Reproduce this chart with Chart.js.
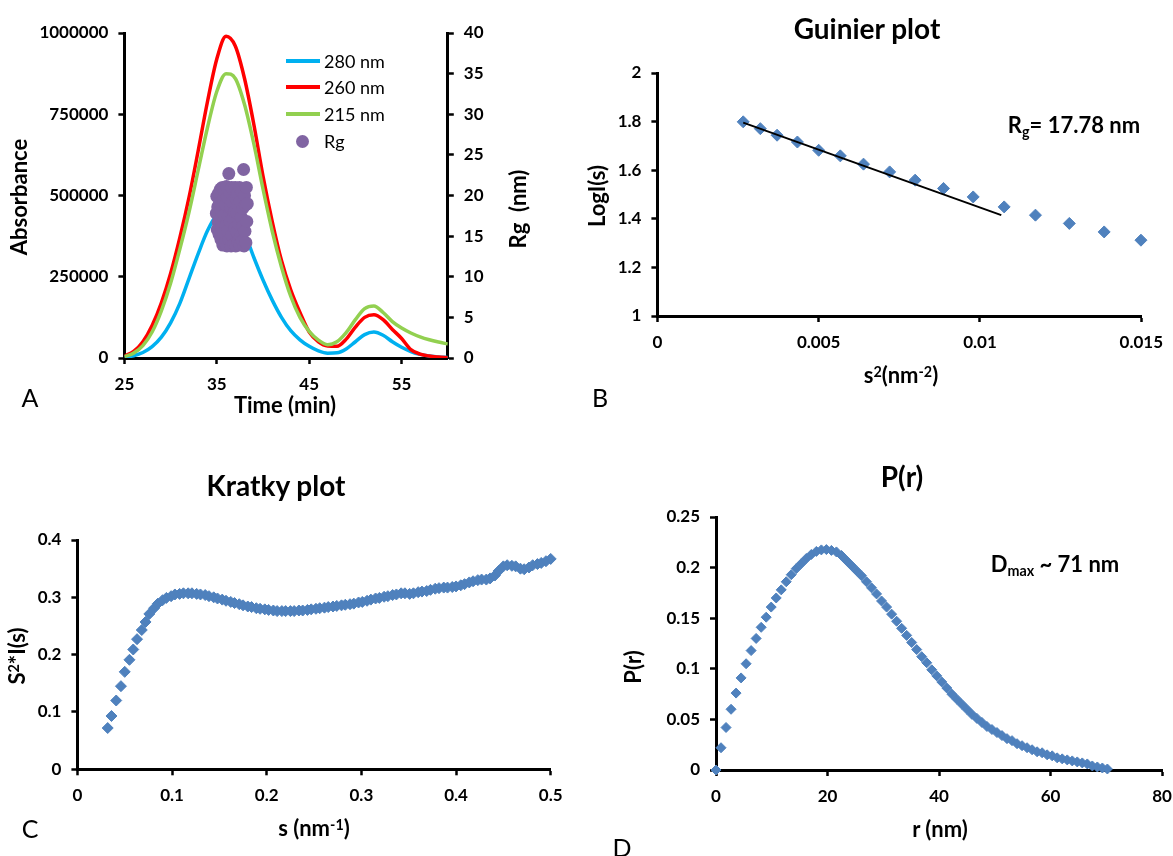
<!DOCTYPE html>
<html>
<head>
<meta charset="utf-8">
<script src="https://cdn.jsdelivr.net/npm/chart.js@4.4.1/dist/chart.umd.min.js"></script>
<style>
  html, body { margin: 0; padding: 0; background: #fff; }
  body { position: relative; width: 1173px; height: 856px; overflow: hidden; font-family: Lato, 'Liberation Sans', sans-serif; color: #000; }
  canvas { position: absolute; }
  .t { position: absolute; white-space: nowrap; line-height: 1; transform: translate(-50%, -50%); font-weight: bold; font-size: 22px; }
  .title { font-size: 28px; }
  .rot { transform: translate(-50%, -50%) rotate(-90deg); }
  .panel-id { font-weight: normal; font-size: 25px; }
  .legend { position: absolute; font-size: 18px; line-height: 1; white-space: nowrap; }
  .legend .ln { position: absolute; width: 34px; height: 3.5px; }
  .legend .dot { position: absolute; width: 13px; height: 13px; border-radius: 50%; background: #8064A2; }
  .legend .tx { position: absolute; transform: translateY(-50%); }
  sup { font-size: 0.65em; position: relative; top: -0.45em; vertical-align: baseline; line-height: 0; }
  sub { font-size: 0.65em; position: relative; top: 0.3em; vertical-align: baseline; line-height: 0; }
</style>
</head>
<body>
<canvas id="chartA" width="560" height="440" style="left:0;top:0"></canvas>
<canvas id="chartB" width="613" height="440" style="left:560px;top:0"></canvas>
<canvas id="chartC" width="580" height="416" style="left:0;top:440px"></canvas>
<canvas id="chartD" width="600" height="416" style="left:590px;top:440px"></canvas>

<!-- A: elution profile -->
<div class="t" style="left:285px;top:405px">Time (min)</div>
<div class="t rot" style="left:19px;top:197px">Absorbance</div>
<div class="t rot" style="left:518px;top:209px">Rg&nbsp; (nm)</div>
<div class="t panel-id" style="left:30px;top:397px">A</div>
<div class="legend">
  <div class="ln" style="left:286px;top:59px;background:#00B0F0"></div><div class="tx" style="left:324px;top:61px">280 nm</div>
  <div class="ln" style="left:286px;top:85px;background:#FF0000"></div><div class="tx" style="left:324px;top:87px">260 nm</div>
  <div class="ln" style="left:286px;top:112px;background:#92D050"></div><div class="tx" style="left:324px;top:114px">215 nm</div>
  <div class="dot" style="left:295.5px;top:134.5px"></div><div class="tx" style="left:324px;top:141px">Rg</div>
</div>

<!-- B: Guinier -->
<div class="t title" style="left:867px;top:28px">Guinier plot</div>
<div class="t" style="left:901px;top:375px">s<sup>2</sup>(nm<sup>-2</sup>)</div>
<div class="t rot" style="left:597px;top:196px">LogI(s)</div>
<div class="t" style="left:1074px;top:125px">R<sub>g</sub>= 17.78 nm</div>
<div class="t panel-id" style="left:600px;top:397px">B</div>

<!-- C: Kratky -->
<div class="t title" style="left:276px;top:485px">Kratky plot</div>
<div class="t" style="left:314px;top:828px">s (nm<sup>-1</sup>)</div>
<div class="t rot" style="left:17px;top:656px">S<sup>2</sup>*I(s)</div>
<div class="t panel-id" style="left:30px;top:828px">C</div>

<!-- D: pair distance distribution -->
<div class="t title" style="left:902px;top:476px">P(r)</div>
<div class="t" style="left:940px;top:829px">r (nm)</div>
<div class="t rot" style="left:633px;top:667px">P(r)</div>
<div class="t" style="left:1055px;top:564px">D<sub>max</sub> ~ 71 nm</div>
<div class="t panel-id" style="left:622px;top:847px">D</div>

<script>
// --- A: SEC elution, absorbance at three wavelengths + Rg per frame ---
const timeMin = [25, 26, 27, 28, 29, 30, 31, 32, 33, 34, 35, 36, 37, 38, 39, 40, 41, 42,
  43, 44, 45, 46, 47, 48, 49, 50, 51, 52, 53, 54, 55, 56, 57, 58, 59, 60];
const abs280 = [2000, 7000, 17000, 35000, 64000, 108000, 168000, 245000, 322000, 392000, 440000, 455000,
  438000, 385000, 310000, 240000, 178000, 125000, 84000, 56000, 36000, 22000, 15000, 16000,
  28000, 50000, 72000, 80000, 70000, 50000, 33000, 20000, 11000, 6000, 3000, 1500];
const abs260 = [6000, 20000, 50000, 100000, 170000, 260000, 370000, 495000, 640000, 790000, 920000, 990000,
  960000, 860000, 720000, 560000, 420000, 300000, 210000, 140000, 80000, 50000, 37000, 36000,
  58000, 95000, 125000, 133000, 118000, 88000, 60000, 26000, 12000, 6000, 3000, 1000];
const abs215 = [4000, 15000, 38000, 80000, 145000, 230000, 335000, 450000, 580000, 710000, 820000, 875000,
  860000, 780000, 660000, 520000, 390000, 280000, 190000, 125000, 82000, 55000, 41000, 50000,
  78000, 118000, 152000, 160000, 140000, 112000, 92000, 77000, 65000, 56000, 49000, 43000];
const rgTime = [34.95, 35.00, 35.05, 35.10, 35.15, 35.20, 35.25, 35.30, 35.35, 35.40, 35.45, 35.50,
  35.55, 35.60, 35.65, 35.70, 35.75, 35.80, 35.85, 35.90, 35.95, 36.00, 36.05, 36.10, 36.15, 36.20,
  36.25, 36.30, 36.35, 36.40, 36.45, 36.50, 36.55, 36.60, 36.65, 36.70, 36.75, 36.80, 36.85, 36.90,
  36.95, 37.00, 37.05, 37.10, 37.15, 37.20, 37.25, 37.30, 37.35, 37.40, 37.45, 37.50, 37.55, 37.60,
  37.65, 37.70, 37.75, 37.80, 37.85, 37.90, 37.95, 38.00, 38.05, 38.10, 38.15, 38.20, 38.25, 38.30];
const rgNm = [17.8, 19.9, 15.8, 18.6, 16.7, 20.3, 15.2, 19.1, 17.0, 20.8, 14.6, 18.2,
  16.1, 21.0, 13.9, 19.5, 15.4, 17.6, 20.6, 14.2, 18.9, 16.3, 21.1, 13.8, 19.8, 15.7,
  17.4, 22.7, 14.5, 20.4, 16.8, 18.5, 13.8, 21.0, 15.1, 19.2, 17.1, 20.7, 14.0, 18.0,
  16.0, 21.0, 13.8, 19.6, 15.5, 17.8, 20.2, 14.3, 18.7, 16.5, 21.0, 13.9, 19.3, 15.0,
  17.3, 20.5, 14.4, 18.4, 16.2, 23.2, 13.8, 20.0, 15.6, 18.8, 14.2, 21.0, 16.8, 19.0];
const ticksTime = [25, 35, 45, 55];
const ticksAbs = [0, 250000, 500000, 750000, 1000000];
const ticksRg = [0, 5, 10, 15, 20, 25, 30, 35, 40];

// --- B: Guinier region ---
const guinierS2 = [0.00266, 0.00319, 0.00371, 0.00434, 0.00500, 0.00567, 0.00639, 0.00720,
  0.00799, 0.00887, 0.00979, 0.01075, 0.01172, 0.01277, 0.01385, 0.01499];
const guinierLogI = [1.799, 1.771, 1.744, 1.716, 1.682, 1.659, 1.625, 1.593,
  1.559, 1.525, 1.490, 1.449, 1.415, 1.381, 1.346, 1.312];
const fitS2 = [0.00266, 0.01066];
const fitLogI = [1.796, 1.415];
const ticksS2 = [0, 0.005, 0.01, 0.015];
const ticksLogI = [1, 1.2, 1.4, 1.6, 1.8, 2];

// --- C: Kratky ---
const kratkyS = [0.032, 0.036, 0.041, 0.046, 0.050, 0.055, 0.059, 0.063, 0.068, 0.072, 0.076, 0.081,
  0.085, 0.090, 0.094, 0.099, 0.103, 0.108, 0.112, 0.117, 0.121, 0.126, 0.130, 0.135, 0.139, 0.144,
  0.148, 0.153, 0.157, 0.162, 0.166, 0.171, 0.175, 0.180, 0.184, 0.189, 0.193, 0.198, 0.202, 0.207,
  0.211, 0.216, 0.220, 0.225, 0.229, 0.234, 0.238, 0.243, 0.247, 0.252, 0.256, 0.261, 0.265, 0.270,
  0.274, 0.279, 0.283, 0.288, 0.292, 0.297, 0.301, 0.306, 0.310, 0.315, 0.319, 0.324, 0.328, 0.333,
  0.337, 0.342, 0.346, 0.351, 0.355, 0.360, 0.364, 0.369, 0.373, 0.378, 0.382, 0.387, 0.391, 0.396,
  0.400, 0.405, 0.409, 0.414, 0.418, 0.423, 0.427, 0.432, 0.436, 0.441, 0.445, 0.450, 0.454, 0.459,
  0.463, 0.468, 0.472, 0.477, 0.481, 0.486, 0.490, 0.495, 0.500];
const kratkyI = [0.072, 0.093, 0.120, 0.145, 0.170, 0.191, 0.209, 0.227, 0.243, 0.257, 0.271, 0.281,
  0.289, 0.295, 0.299, 0.302, 0.305, 0.306, 0.307, 0.307, 0.307, 0.306, 0.305, 0.304, 0.302, 0.300,
  0.298, 0.296, 0.294, 0.292, 0.290, 0.288, 0.286, 0.284, 0.283, 0.281, 0.280, 0.279, 0.278, 0.277,
  0.276, 0.276, 0.276, 0.276, 0.276, 0.277, 0.277, 0.278, 0.279, 0.280, 0.281, 0.282, 0.283, 0.284,
  0.285, 0.286, 0.287, 0.288, 0.289, 0.291, 0.292, 0.294, 0.296, 0.298, 0.299, 0.301, 0.302, 0.304,
  0.305, 0.307, 0.307, 0.306, 0.307, 0.309, 0.310, 0.311, 0.313, 0.315, 0.316, 0.317, 0.317, 0.318,
  0.319, 0.321, 0.323, 0.326, 0.328, 0.330, 0.331, 0.331, 0.333, 0.338, 0.346, 0.354, 0.356, 0.355,
  0.354, 0.350, 0.349, 0.352, 0.356, 0.358, 0.360, 0.363, 0.367];
const ticksS = [0, 0.1, 0.2, 0.3, 0.4, 0.5];
const ticksKratky = [0, 0.1, 0.2, 0.3, 0.4];

// --- D: P(r) ---
const prR = [0, 0.9, 1.8, 2.7, 3.6, 4.5, 5.4, 6.3, 7.2, 8.1, 9.0, 9.9, 10.8, 11.7, 12.6, 13.5, 14.4,
  15.3, 16.2, 17.1, 18.0, 18.9, 19.8, 20.7, 21.6, 22.5, 23.4, 24.3, 25.2, 26.1, 27.0, 27.9, 28.8,
  29.7, 30.6, 31.5, 32.4, 33.3, 34.2, 35.1, 36.0, 36.9, 37.8, 38.7, 39.6, 40.5, 41.4, 42.3, 43.2,
  44.1, 45.0, 45.9, 46.8, 47.7, 48.6, 49.5, 50.4, 51.3, 52.2, 53.1, 54.0, 54.9, 55.8, 56.7, 57.6,
  58.5, 59.4, 60.3, 61.2, 62.1, 63.0, 63.9, 64.8, 65.7, 66.6, 67.5, 68.4, 69.3, 70.2];
const prP = [0, 0.022, 0.042, 0.060, 0.076, 0.091, 0.105, 0.118, 0.130, 0.141, 0.151, 0.161, 0.170,
  0.178, 0.186, 0.193, 0.199, 0.204, 0.209, 0.213, 0.216, 0.2175, 0.2178, 0.217, 0.2155, 0.212,
  0.207, 0.202, 0.197, 0.192, 0.186, 0.180, 0.174, 0.167, 0.161, 0.154, 0.147, 0.140, 0.133, 0.126,
  0.119, 0.112, 0.106, 0.099, 0.093, 0.087, 0.081, 0.075, 0.070, 0.065, 0.060, 0.055, 0.051, 0.047,
  0.043, 0.040, 0.037, 0.034, 0.031, 0.029, 0.026, 0.024, 0.022, 0.020, 0.018, 0.017, 0.015, 0.014,
  0.012, 0.011, 0.010, 0.009, 0.008, 0.007, 0.006, 0.004, 0.003, 0.002, 0.001];
const ticksR = [0, 20, 40, 60, 80];
const ticksPr = [0, 0.05, 0.1, 0.15, 0.2, 0.25];

const BLUE = '#4F81BD';

Chart.defaults.font.family = "Lato, 'Liberation Sans', sans-serif";
Chart.defaults.font.size = 17;
Chart.defaults.font.weight = 'bold';
Chart.defaults.color = '#000';

const pts = (xs, ys) => xs.map((x, i) => ({ x, y: ys[i] }));

// Excel-like axis: black spine, outside ticks, no gridlines; fixed box size keeps plot areas aligned
function axis(position, min, max, tickValues, size) {
  return {
    type: 'linear', position, min, max,
    afterBuildTicks: (s) => { s.ticks = tickValues.map((v) => ({ value: v })); },
    afterFit: (s) => { if (s.isHorizontal()) s.height = size; else s.width = size; },
    border: { display: true, color: '#000', width: 3 },
    grid: { drawOnChartArea: false, drawTicks: true, tickLength: 6, tickWidth: 2.5, tickColor: '#000' },
    ticks: { padding: 10, maxRotation: 0, autoSkip: false, callback: (v) => String(v) },
  };
}

function baseOptions(padding, scales) {
  return {
    responsive: false, animation: false, events: [],
    layout: { padding },
    plugins: { legend: { display: false }, tooltip: { enabled: false } },
    scales,
  };
}

function diamonds(data, r) {
  return {
    data, showLine: false, clip: false, pointStyle: 'rectRot', pointRadius: r,
    backgroundColor: BLUE, borderColor: BLUE, borderWidth: 1,
  };
}

function trace(ys, color, order) {
  return {
    data: pts(timeMin, ys), showLine: true, borderColor: color, borderWidth: 3.5,
    pointRadius: 0, cubicInterpolationMode: 'monotone', order, yAxisID: 'y',
  };
}

// A
new Chart(document.getElementById('chartA'), {
  type: 'scatter',
  data: {
    datasets: [
      { data: pts(rgTime, rgNm), yAxisID: 'y1', order: 0, pointStyle: 'circle', pointRadius: 6.5,
        backgroundColor: '#8064A2', borderWidth: 0 },
      trace(abs215, '#92D050', 1),
      trace(abs260, '#FF0000', 2),
      trace(abs280, '#00B0F0', 3),
    ],
  },
  options: baseOptions({ top: 33, left: 0, right: 0, bottom: 0 }, {
    x: axis('bottom', 25, 60, ticksTime, 82),
    y: axis('left', 0, 1000000, ticksAbs, 124.4),
    y1: axis('right', 0, 40, ticksRg, 112.2),
  }),
});

// B
new Chart(document.getElementById('chartB'), {
  type: 'scatter',
  data: {
    datasets: [
      { data: pts(fitS2, fitLogI), showLine: true, borderColor: '#000', borderWidth: 2, pointRadius: 0, order: 0 },
      { ...diamonds(pts(guinierS2, guinierLogI), 6), order: 1 },
    ],
  },
  options: baseOptions({ top: 73, left: 0, right: 25, bottom: 0 }, {
    x: axis('bottom', 0, 0.015, ticksS2, 124),
    y: axis('left', 1, 2, ticksLogI, 97.4),
  }),
});

// C
new Chart(document.getElementById('chartC'), {
  type: 'scatter',
  data: { datasets: [diamonds(pts(kratkyS, kratkyI), 5.5)] },
  options: baseOptions({ top: 100, left: 0, right: 29.3, bottom: 0 }, {
    x: axis('bottom', 0, 0.5, ticksS, 86.7),
    y: axis('left', 0, 0.4, ticksKratky, 77.4),
  }),
});

// D
new Chart(document.getElementById('chartD'), {
  type: 'scatter',
  data: { datasets: [diamonds(pts(prR, prP), 5)] },
  options: baseOptions({ top: 77, left: 0, right: 28, bottom: 0 }, {
    x: axis('bottom', 0, 80, ticksR, 86),
    y: axis('left', 0, 0.25, ticksPr, 126),
  }),
});
</script>
</body>
</html>
